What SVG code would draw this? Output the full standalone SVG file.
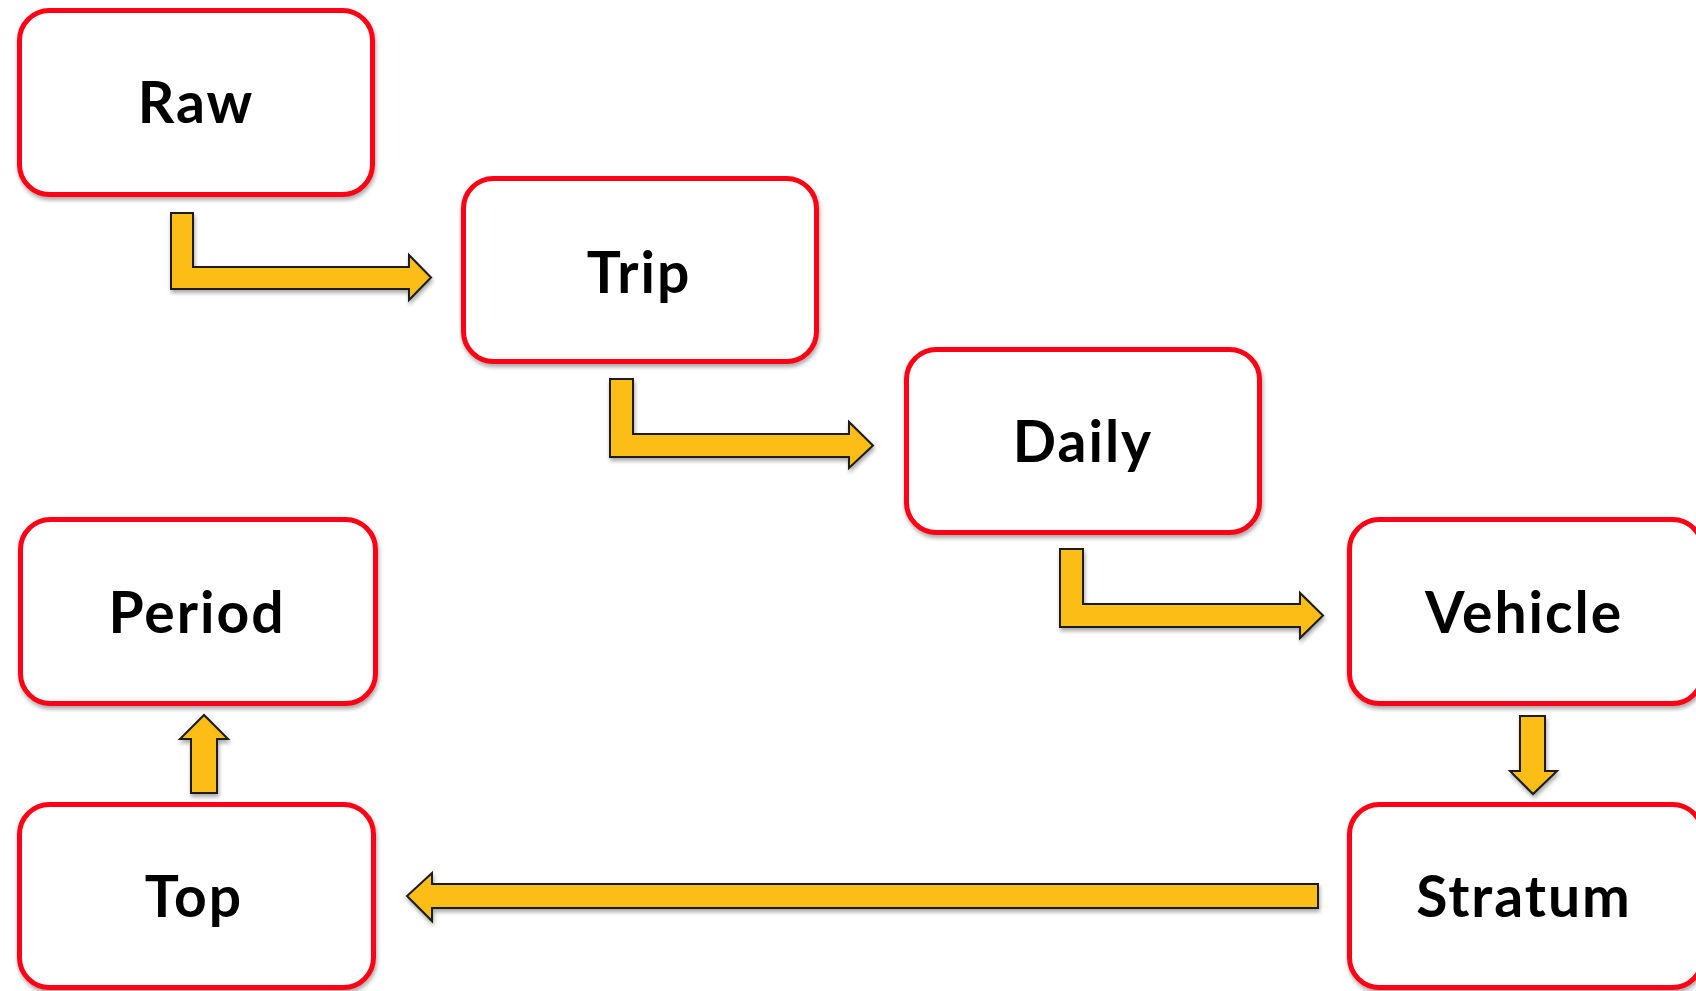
<svg xmlns="http://www.w3.org/2000/svg" width="1696" height="991" viewBox="0 0 1696 991">
  <defs>
    <filter id="shadow" x="-10%" y="-10%" width="120%" height="130%">
      <feGaussianBlur in="SourceAlpha" stdDeviation="2"/>
      <feOffset dx="1" dy="3" result="off"/>
      <feComponentTransfer><feFuncA type="linear" slope="0.35"/></feComponentTransfer>
      <feMerge><feMergeNode/><feMergeNode in="SourceGraphic"/></feMerge>
    </filter>
  </defs>
  <style>
    .box { fill: #ffffff; stroke: #ff0012; stroke-width: 5; filter: url(#shadow); }
    .label { font-family: "Lato", "Open Sans", "Liberation Sans", sans-serif; font-weight: 700; font-size: 57px; letter-spacing: 2px; fill: #000000; text-anchor: middle; }
    .arrow { fill: #fcbe14; stroke: #1a1a1a; stroke-width: 2; stroke-linejoin: miter; filter: url(#shadow); }
  </style>
  <rect width="1696" height="991" fill="#ffffff"/>

  <g id="connectors">
    <!-- Raw to Trip -->
    <polygon class="arrow" points="171,213 193,213 193,267 409,267 409,255 431,277.5 409,300 409,289 171,289"/>
    <!-- Trip to Daily -->
    <polygon class="arrow" points="610,379 633,379 633,434 849,434 849,422 873,445.5 849,468 849,457 610,457"/>
    <!-- Daily to Vehicle -->
    <polygon class="arrow" points="1060,549 1083,549 1083,604 1300,604 1300,593 1323,615.5 1300,638 1300,627 1060,627"/>
    <!-- Vehicle to Stratum -->
    <polygon class="arrow" points="1520,716 1545,716 1545,771 1557,771 1533,794 1510,771 1520,771"/>
    <!-- Stratum to Top -->
    <polygon class="arrow" points="1318,884 1318,908 432,908 432,921 407,896 432,873 432,884"/>
    <!-- Top to Period -->
    <polygon class="arrow" points="191,793 217,793 217,739 228,739 204,715 180,739 191,739"/>
  </g>

  <g id="node-raw">
    <rect class="box" x="19.5" y="10.5" width="353" height="184" rx="30"/>
    <text class="label" x="196" y="123">Raw</text>
  </g>
  <g id="node-trip">
    <rect class="box" x="463.5" y="178.5" width="353" height="183" rx="30"/>
    <text class="label" x="639" y="293">Trip</text>
  </g>
  <g id="node-daily">
    <rect class="box" x="906.5" y="349.5" width="353" height="183" rx="30"/>
    <text class="label" x="1083" y="462">Daily</text>
  </g>
  <g id="node-vehicle">
    <rect class="box" x="1349.5" y="519.5" width="353" height="184" rx="30"/>
    <text class="label" x="1524" y="633">Vehicle</text>
  </g>
  <g id="node-stratum">
    <rect class="box" x="1349.5" y="804.5" width="353" height="183" rx="30"/>
    <text class="label" x="1524" y="917">Stratum</text>
  </g>
  <g id="node-top">
    <rect class="box" x="19.5" y="804.5" width="354" height="183" rx="30"/>
    <text class="label" x="194" y="917">Top</text>
  </g>
  <g id="node-period">
    <rect class="box" x="20.5" y="519.5" width="355" height="184" rx="30"/>
    <text class="label" x="197" y="633">Period</text>
  </g>
</svg>
